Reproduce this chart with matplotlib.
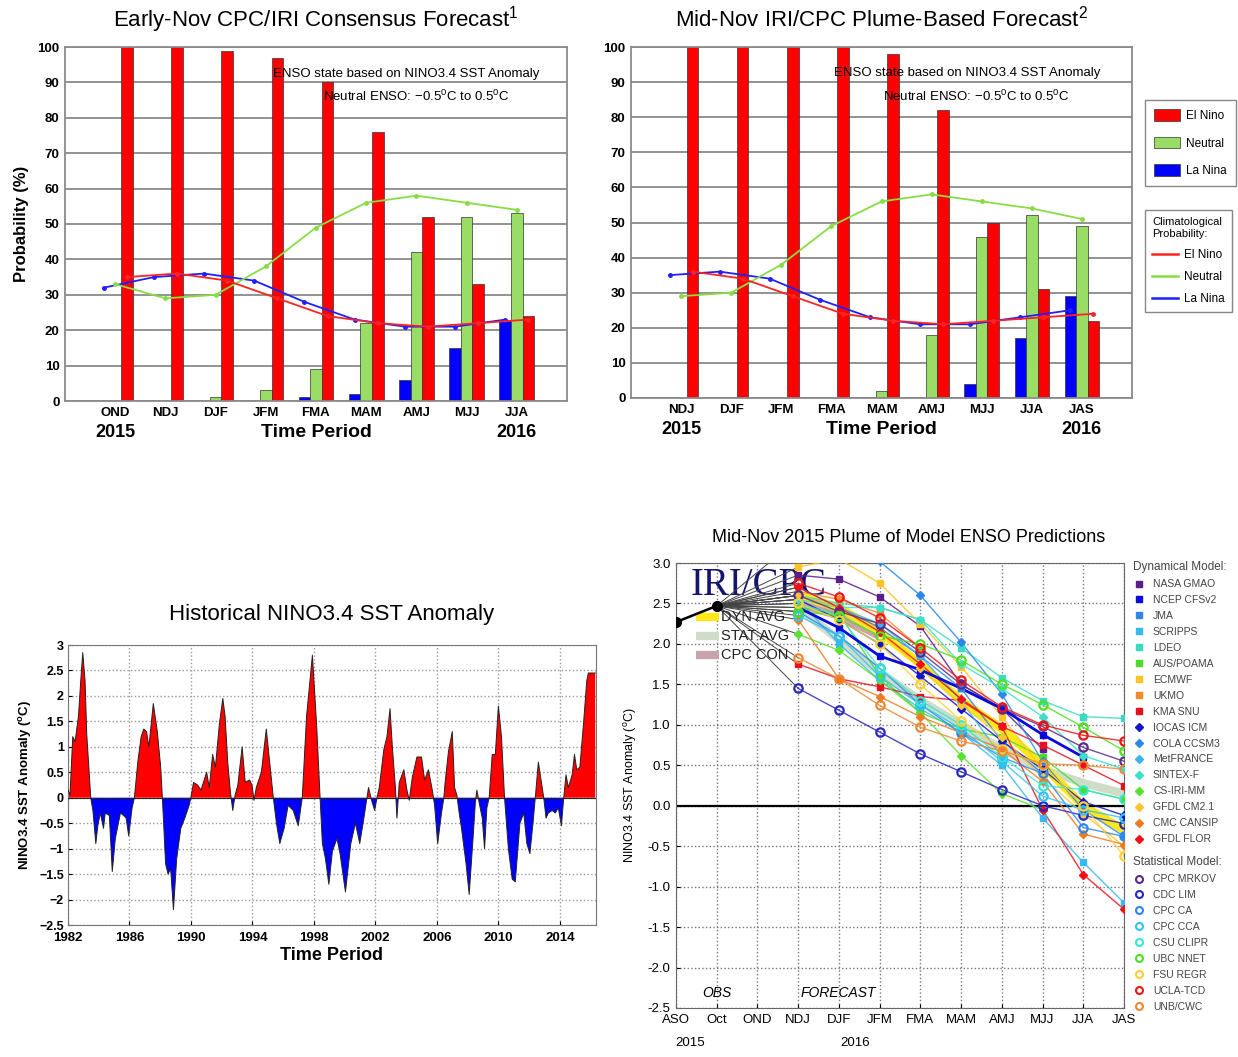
import numpy as np
import matplotlib
matplotlib.use("Agg")
import matplotlib.pyplot as plt
from matplotlib.lines import Line2D
from matplotlib.patches import Patch

plt.rcParams['font.family'] = ['Liberation Sans', 'DejaVu Sans']
plt.rcParams['mathtext.default'] = 'regular'

W, H = 1238, 1057

# ---------------- data ----------------
# early-Nov consensus forecast
seasons_early = ["OND", "NDJ", "DJF", "JFM", "FMA", "MAM", "AMJ", "MJJ", "JJA"]
early_lanina = [0, 0, 0, 0, 1, 2, 6, 15, 23]
early_neutral = [0, 0, 1, 3, 9, 22, 42, 52, 53]
early_elnino = [100, 100, 99, 97, 90, 76, 52, 33, 24]
early_clim_lanina = [32, 35, 36, 34, 28, 23, 21, 21, 23]
early_clim_neutral = [33, 29, 30, 38, 49, 56, 58, 56, 54]
early_clim_elnino = [35, 36, 34, 29, 24, 22, 21, 22, 23]

# mid-Nov plume based forecast
seasons_mid = ["NDJ", "DJF", "JFM", "FMA", "MAM", "AMJ", "MJJ", "JJA", "JAS"]
mid_lanina = [0, 0, 0, 0, 0, 0, 4, 17, 29]
mid_neutral = [0, 0, 0, 0, 2, 18, 46, 52, 49]
mid_elnino = [100, 100, 100, 100, 98, 82, 50, 31, 22]
mid_clim_lanina = [35, 36, 34, 28, 23, 21, 21, 23, 25]
mid_clim_neutral = [29, 30, 38, 49, 56, 58, 56, 54, 51]
mid_clim_elnino = [36, 34, 29, 24, 22, 21, 22, 23, 24]

# historical NINO3.4 anomaly
hist_years = [1982.00, 1982.13, 1982.31, 1982.46, 1982.68, 1982.83, 1982.96, 1983.11, 1983.22,
              1983.40, 1983.48, 1983.62, 1983.81, 1983.94, 1984.10, 1984.31, 1984.42, 1984.69,
              1984.88, 1985.08, 1985.41, 1985.62, 1985.78, 1985.95, 1986.17, 1986.32, 1986.54,
              1986.76, 1986.93, 1987.11, 1987.26, 1987.55, 1987.81, 1988.03, 1988.14, 1988.35,
              1988.51, 1988.68, 1988.86, 1989.07, 1989.34, 1989.60, 1989.88, 1989.99, 1990.17,
              1990.43, 1990.65, 1990.86, 1991.02, 1991.19, 1991.41, 1991.59, 1991.85, 1992.07,
              1992.22, 1992.39, 1992.57, 1992.72, 1992.87, 1993.05, 1993.33, 1993.53, 1993.81,
              1993.97, 1994.10, 1994.25, 1994.58, 1994.90, 1995.12, 1995.34, 1995.56, 1995.78,
              1996.06, 1996.32, 1996.65, 1996.98, 1997.24, 1997.52, 1997.90, 1998.18, 1998.40,
              1998.55, 1998.75, 1998.97, 1999.20, 1999.50, 1999.70, 2000.05, 2000.40, 2000.70,
              2000.98, 2001.25, 2001.45, 2001.55, 2001.75, 2001.95, 2002.10, 2002.25, 2002.55,
              2002.75, 2002.95, 2003.10, 2003.30, 2003.40, 2003.55, 2003.85, 2004.05, 2004.20,
              2004.40, 2004.70, 2005.00, 2005.20, 2005.45, 2005.70, 2005.85, 2006.05, 2006.30,
              2006.45, 2006.55, 2006.75, 2007.00, 2007.15, 2007.30, 2007.45, 2007.60, 2007.90,
              2008.10, 2008.35, 2008.50, 2008.60, 2008.75, 2008.95, 2009.10, 2009.25, 2009.40,
              2009.60, 2009.80, 2010.00, 2010.20, 2010.40, 2010.65, 2010.90, 2011.10, 2011.40,
              2011.65, 2011.85, 2012.05, 2012.25, 2012.40, 2012.60, 2012.80, 2012.95, 2013.10,
              2013.25, 2013.50, 2013.70, 2013.90, 2014.10, 2014.25, 2014.40, 2014.55, 2014.80,
              2014.95, 2015.10, 2015.30, 2015.55, 2015.75, 2015.85, 2016.00, 2016.30]
hist_anom = [0.15, 0.05, 1.2, 1.1, 1.6, 2.3, 2.85, 2.3, 1.25,
             0.4, 0.0, -0.25, -0.9, -0.55, -0.3, -0.6, -0.3, -0.35,
             -1.45, -0.8, -0.3, -0.35, -0.4, -0.75, -0.2, 0.0, 0.7,
             1.2, 1.35, 1.3, 1.0, 1.85, 1.3, 0.6, 0.0, -1.3,
             -1.5, -1.4, -2.2, -1.2, -0.6, -0.4, -0.15, 0.0, 0.3,
             0.25, 0.15, 0.35, 0.5, 0.2, 0.85, 0.6, 1.45, 1.95,
             1.6, 0.7, 0.1, -0.25, 0.05, 0.25, 1.0, 0.3, 0.35,
             0.25, -0.05, 0.2, 0.5, 1.35, 0.7, 0.05, -0.5, -0.9,
             -0.6, -0.15, -0.25, -0.55, 0.0, 1.6, 2.8, 1.4, 0.0,
             -0.9, -1.2, -1.7, -1.05, -0.8, -1.1, -1.85, -0.9, -0.5,
             -0.9, -0.4, 0.0, 0.2, -0.05, -0.25, 0.0, 0.2, 0.95,
             1.2, 1.75, 1.0, 0.2, -0.4, 0.3, 0.55, 0.15, -0.05,
             0.4, 0.8, 0.8, 0.35, 0.55, 0.15, -0.15, -0.9, -0.3,
             0.0, 0.35, 0.9, 1.3, 0.2, 0.05, -0.3, -0.6, -1.3,
             -1.9, -0.8, -0.1, 0.15, -0.1, -0.4, -1.0, -0.2, 0.0,
             0.85, 0.85, 1.8, 1.2, 0.0, -1.0, -1.6, -1.65, -0.5,
             -0.3, -0.9, -1.1, -0.5, 0.0, 0.7, 0.3, 0.0, -0.4,
             -0.3, -0.25, -0.3, -0.2, -0.55, 0.0, 0.45, 0.2, 0.45,
             0.85, 0.55, 0.6, 1.5, 2.3, 2.45, 2.45, 2.45]

# plume of model predictions
plume_seasons = ["ASO", "Oct", "OND", "NDJ", "DJF", "JFM", "FMA", "MAM", "AMJ", "MJJ", "JJA", "JAS"]
obs_values = [2.27, 2.47]
nan = np.nan
dyn_models = ["NASA GMAO", "NCEP CFSv2", "JMA", "SCRIPPS", "LDEO", "AUS/POAMA", "ECMWF", "UKMO",
              "KMA SNU", "IOCAS ICM", "COLA CCSM3", "MetFRANCE", "SINTEX-F", "CS-IRI-MM",
              "GFDL CM2.1", "CMC CANSIP", "GFDL FLOR"]
dyn_values = [
    [2.85, 2.80, 2.58, 2.22, 1.50, 1.20, 0.70, nan, nan],
    [2.45, 2.20, 1.85, 1.68, 1.45, 1.20, 0.88, 0.60, nan],
    [2.60, 2.45, 2.20, 1.85, 1.45, 0.80, 0.40, nan, nan],
    [2.55, 2.00, 1.55, 1.20, 0.90, 0.50, -0.15, -0.70, -1.20],
    [2.60, 2.50, 2.45, 2.30, 1.95, 1.58, 1.30, 1.10, 1.08],
    [2.45, 2.38, 1.60, 1.15, 0.95, 0.85, 0.60, 0.20, 0.08],
    [2.95, 3.05, 2.75, 2.25, 1.72, 1.10, 0.45, nan, nan],
    [2.65, 2.55, 2.38, 1.95, nan, nan, nan, nan, nan],
    [1.75, 1.57, 1.47, 1.35, 1.30, 0.98, 0.75, 0.50, 0.25],
    [2.55, 2.30, 2.00, 1.60, 1.20, 0.80, 0.45, 0.05, -0.12],
    [3.30, 3.20, 3.02, 2.60, 2.02, 1.38, 0.55, -0.05, -0.38],
    [2.70, 2.45, 2.25, 1.85, 1.30, 0.60, nan, nan, nan],
    [2.55, 2.45, 2.45, 2.30, 1.75, 1.45, 1.10, 0.62, 0.45],
    [2.12, 1.92, 1.55, 1.15, 0.62, 0.15, -0.05, nan, nan],
    [2.60, 2.45, 2.15, 1.70, 1.25, 0.85, 0.35, -0.10, -0.50],
    [2.30, 1.57, 1.35, 1.10, 0.90, 0.70, 0.30, -0.35, -0.48],
    [2.70, 2.45, 2.15, 1.75, 1.32, 0.98, -0.05, -0.85, -1.28],
]
stat_models = ["CPC MRKOV", "CDC LIM", "CPC CA", "CPC CCA", "CSU CLIPR", "UBC NNET", "FSU REGR",
               "UCLA-TCD", "UNB/CWC"]
stat_values = [
    [2.60, 2.40, 2.25, 1.90, 1.50, 1.20, 0.98, 0.72, 0.55],
    [1.45, 1.18, 0.91, 0.64, 0.42, 0.20, 0.00, -0.12, -0.22],
    [2.40, 2.10, 1.70, 1.25, 0.90, 0.60, 0.40, -0.27, -0.38],
    [2.35, 2.10, 1.60, 1.25, 0.95, 0.55, 0.12, -0.05, -0.15],
    [2.50, 2.35, 1.70, 1.30, 1.00, 0.60, 0.25, 0.20, 0.08],
    [2.40, 2.35, 2.10, 2.00, 1.80, 1.50, 1.25, 0.97, 0.68],
    [2.50, 2.30, 2.00, 1.50, 1.05, 0.70, 0.50, 0.00, -0.62],
    [2.75, 2.58, 2.32, 1.95, 1.55, 1.22, 1.00, 0.87, 0.80],
    [1.83, 1.57, 1.24, 0.97, 0.80, 0.68, 0.52, 0.50, 0.45],
]
dyn_avg = [2.60, 2.45, 2.15, 1.75, 1.30, 0.95, 0.50, 0.00, -0.30]
stat_avg = [2.45, 2.05, 1.65, 1.30, 1.00, 0.70, 0.45, 0.28, 0.15]
cpc_con = [2.50, 2.35, 2.10]

# ---------------- styles ----------------
RED, GREEN, BLUE = "#FF0000", "#99DD66", "#0000FF"
CL_RED, CL_GREEN, CL_BLUE = "#FF2222", "#88DD44", "#1F1FFF"
dyn_colors = ["#5A1E8C", "#0A0ADC", "#2E86E6", "#36B8F0", "#3ADBC0", "#4CDB2A", "#FFC425",
              "#F08A2A", "#E8101E", "#1414C8", "#2A88E8", "#3AB4F0", "#3AE0C8", "#5AE032",
              "#FFC430", "#F07A22", "#F01018"]
dyn_markers = ["s"] * 9 + ["D"] * 8
stat_colors = ["#5A2A8C", "#2828C0", "#2A88F0", "#30C4F4", "#34E8D4", "#4CE020", "#FFD034",
               "#F01414", "#F08830"]


def px_axes(fig, left, top, right, bottom):
    return fig.add_axes([left / W, 1 - bottom / H, (right - left) / W, (bottom - top) / H])


fig = plt.figure(figsize=(W / 100, H / 100), dpi=100)


def bar_panel(ax, seasons, lanina, neutral, elnino, cl_lanina, cl_neutral, cl_elnino, title,
              note_x):
    x = np.arange(len(seasons))
    w = 0.23
    ax.bar(x - w, lanina, w, color=BLUE, edgecolor="#333333", lw=0.5, zorder=2)
    ax.bar(x, neutral, w, color=GREEN, edgecolor="#333333", lw=0.5, zorder=2)
    ax.bar(x + w, elnino, w, color=RED, edgecolor="#333333", lw=0.5, zorder=2)
    ax.plot(x - w, cl_lanina, color=CL_BLUE, lw=1.3, marker="o", ms=2.5, zorder=3)
    ax.plot(x, cl_neutral, color=CL_GREEN, lw=1.3, marker="o", ms=2.5, zorder=3)
    ax.plot(x + w, cl_elnino, color=CL_RED, lw=1.3, marker="o", ms=2.5, zorder=3)
    ax.set_xlim(-1, len(seasons))
    ax.set_ylim(0, 100)
    ax.set_yticks(range(0, 101, 10))
    ax.set_xticks(x)
    ax.set_xticklabels(seasons, fontsize=9.5, fontweight="bold")
    for lab in ax.get_yticklabels():
        lab.set_fontsize(9.5)
        lab.set_fontweight("bold")
    ax.tick_params(length=0, pad=4)
    ax.yaxis.grid(True, color="#8a8a8a", lw=1.3)
    ax.set_axisbelow(True)
    for sp in ax.spines.values():
        sp.set_color("#8a8a8a")
        sp.set_linewidth(1.3)
    ax.set_title(title, fontsize=16, pad=15)
    ax.annotate("2015", xy=(0, -0.09), xycoords=("data", "axes fraction"), ha="center",
                va="center", fontsize=13, fontweight="bold")
    ax.annotate("2016", xy=(len(seasons) - 1, -0.09), xycoords=("data", "axes fraction"),
                ha="center", va="center", fontsize=13, fontweight="bold")
    ax.text(0.5, -0.09, "Time Period", transform=ax.transAxes, ha="center", va="center",
            fontsize=14, fontweight="bold")
    ax.text(note_x[0], 92.5, "ENSO state based on NINO3.4 SST Anomaly", ha="center",
            va="center", fontsize=9.5, zorder=4)
    ax.text(note_x[1], 86, r"Neutral ENSO: $-$0.5$^0$C to 0.5$^0$C", ha="center",
            va="center", fontsize=9.5, zorder=4)


# top-left
ax1 = px_axes(fig, 65, 47, 567, 401)
bar_panel(ax1, seasons_early, early_lanina, early_neutral, early_elnino, early_clim_lanina,
          early_clim_neutral, early_clim_elnino, "Early-Nov CPC/IRI Consensus Forecast$^1$",
          (5.8, 5.99))
ax1.set_ylabel("Probability (%)", fontsize=12, fontweight="bold", labelpad=6)

# top-right
ax2 = px_axes(fig, 631, 47, 1132, 398)
bar_panel(ax2, seasons_mid, mid_lanina, mid_neutral, mid_elnino, mid_clim_lanina,
          mid_clim_neutral, mid_clim_elnino, "Mid-Nov IRI/CPC Plume-Based Forecast$^2$",
          (5.71, 5.88))
leg1 = ax2.legend(handles=[Patch(facecolor=RED, edgecolor="#333333", lw=0.5, label="El Nino"),
                           Patch(facecolor=GREEN, edgecolor="#333333", lw=0.5, label="Neutral"),
                           Patch(facecolor=BLUE, edgecolor="#333333", lw=0.5, label="La Nina")],
                  loc="upper left", bbox_to_anchor=(1145 / W, 1 - 100 / H),
                  bbox_transform=fig.transFigure, fontsize=8.5, handlelength=2.2,
                  handleheight=1.1, handletextpad=0.5, labelspacing=1.25, borderpad=0.8,
                  borderaxespad=0, fancybox=False, edgecolor="#888888", framealpha=1)
ax2.add_artist(leg1)
ax2.legend(handles=[Line2D([], [], color=CL_RED, lw=1.8, label="El Nino"),
                    Line2D([], [], color=CL_GREEN, lw=1.8, label="Neutral"),
                    Line2D([], [], color=CL_BLUE, lw=1.8, label="La Nina")],
           title="Climatological\nProbability:", title_fontsize=8, alignment="left",
           loc="upper left", bbox_to_anchor=(1145 / W, 1 - 210 / H),
           bbox_transform=fig.transFigure, fontsize=8.5, handlelength=2.2, handletextpad=0.5,
           labelspacing=0.85, borderpad=0.6, borderaxespad=0, fancybox=False,
           edgecolor="#888888", framealpha=1)

# bottom-left historical
ax3 = px_axes(fig, 68, 645, 596, 925)
t = np.array(hist_years)
v = np.array(hist_anom)
ax3.fill_between(t, v, 0, where=v >= 0, interpolate=True, color=RED, lw=0, zorder=2)
ax3.fill_between(t, v, 0, where=v <= 0, interpolate=True, color=BLUE, lw=0, zorder=2)
ax3.plot(t, v, color="#222222", lw=0.7, zorder=3)
ax3.axhline(0, color="#222222", lw=0.8, zorder=3)
ax3.set_xlim(1982, 2016.35)
ax3.set_ylim(-2.5, 3)
ax3.set_xticks(range(1982, 2015, 4))
yt = np.arange(-2.5, 3.01, 0.5)
ax3.set_yticks(yt)
ax3.set_yticklabels([f"{y:g}".replace("-", "\u2212") for y in yt], fontsize=9,
                    fontweight="bold")
for lab in ax3.get_xticklabels():
    lab.set_fontsize(9.5)
    lab.set_fontweight("bold")
ax3.tick_params(length=3, direction="in", pad=3)
ax3.tick_params(axis="x", pad=5)
ax3.grid(True, color="#9a9a9a", ls=":", lw=1.0)
ax3.set_axisbelow(True)
for sp in ax3.spines.values():
    sp.set_color("#777777")
ax3.set_title("Historical NINO3.4 SST Anomaly", fontsize=16, pad=18)
ax3.set_xlabel("Time Period", fontsize=13, fontweight="bold", labelpad=2)
ax3.set_ylabel("NINO3.4 SST Anomaly ($^o$C)", fontsize=9.5, fontweight="bold", labelpad=4)

# bottom-right plume
ax4 = px_axes(fig, 676, 563, 1124, 1008)
xs = np.arange(len(plume_seasons))
fx = xs[3:]
ax4.text(0.35, 2.72, "IRI/CPC", family=["Liberation Serif", "DejaVu Serif"], fontsize=28,
         color="#14146E", va="center", ha="left", zorder=1)
all_values = dyn_values + stat_values
for vals in all_values:
    ax4.plot([xs[1], fx[0]], [obs_values[-1], vals[0]], color="#444444", lw=0.7, zorder=2)
ax4.plot(fx[:len(cpc_con)], cpc_con, color="#C9A3AA", lw=6, solid_capstyle="butt", zorder=2)
ax4.plot(fx, stat_avg, color="#CFDDC8", lw=6, solid_capstyle="butt", zorder=2)
ax4.plot(fx, dyn_avg, color="#FFE81A", lw=6, solid_capstyle="butt", zorder=2)
for vals, col, mk in zip(dyn_values, dyn_colors, dyn_markers):
    ax4.plot(fx, vals, color=col, lw=1.0, alpha=0.85, zorder=3)
    ax4.plot(fx, vals, ls="none", marker=mk, color=col, ms=5 if mk == "s" else 4.5, zorder=4)
for vals, col in zip(stat_values, stat_colors):
    ax4.plot(fx, vals, color=col, lw=1.0, alpha=0.85, zorder=3)
    ax4.plot(fx, vals, ls="none", marker="o", mfc="none", mec=col, mew=1.6, ms=6, zorder=4)
ax4.plot(fx, dyn_values[1], color=dyn_colors[1], lw=2.0, zorder=3)
ax4.plot(xs[:2], obs_values, color="black", lw=1.8, marker="o", ms=7, zorder=5)
ax4.axhline(0, color="black", lw=1.6, zorder=2)
ax4.set_xlim(0, 11)
ax4.set_ylim(-2.5, 3.0)
ax4.set_xticks(xs)
ax4.set_xticklabels(plume_seasons, fontsize=9.5)
pyt = np.arange(-2.5, 3.01, 0.5)
ax4.set_yticks(pyt)
ax4.set_yticklabels([f"{y:.1f}" for y in pyt], fontsize=9.5)
ax4.tick_params(length=3, direction="in", pad=4)
ax4.grid(True, color="#777777", ls=":", lw=1.0)
ax4.set_axisbelow(True)
for sp in ax4.spines.values():
    sp.set_color("#666666")
ax4.set_title("Mid-Nov 2015 Plume of Model ENSO Predictions", fontsize=13, pad=15, x=0.52)
ax4.set_ylabel("NINO3.4 SST Anomaly ($^o$C)", fontsize=9, labelpad=6)
ax4.annotate("2015", xy=(0.35, -0.079), xycoords=("data", "axes fraction"), ha="center",
             va="center", fontsize=9.5)
ax4.annotate("2016", xy=(4.4, -0.079), xycoords=("data", "axes fraction"), ha="center",
             va="center", fontsize=9.5)
ax4.text(1.0, -2.32, "OBS", style="italic", fontsize=10, ha="center", va="center")
ax4.text(3.05, -2.32, "FORECAST", style="italic", fontsize=10, ha="left", va="center")
ax4.plot([0.5, 1.05], [2.33, 2.33], color="#FFE81A", lw=6, solid_capstyle="butt", zorder=3)
ax4.plot([0.5, 1.05], [2.10, 2.10], color="#CFDDC8", lw=6, solid_capstyle="butt", zorder=3)
ax4.plot([0.5, 1.05], [1.86, 1.86], color="#C9A3AA", lw=6, solid_capstyle="butt", zorder=3)
ax4.text(1.1, 2.33, "DYN AVG", fontsize=10.5, va="center", color="#222222", zorder=3)
ax4.text(1.1, 2.10, "STAT AVG", fontsize=10.5, va="center", color="#222222", zorder=3)
ax4.text(1.1, 1.86, "CPC CON", fontsize=10.5, va="center", color="#222222", zorder=3)

dyn_handles = [Line2D([], [], ls="none", marker=mk, color=c, ms=4.5, label=n)
               for n, c, mk in zip(dyn_models, dyn_colors, dyn_markers)]
legd = ax4.legend(handles=dyn_handles, title="Dynamical Model:", title_fontsize=8.5,
                  alignment="left", loc="upper left", bbox_to_anchor=(1128 / W, 1 - 556 / H),
                  bbox_transform=fig.transFigure, fontsize=7.5, frameon=False,
                  handlelength=1.2, handletextpad=0.7, labelspacing=0.57, borderpad=0.0,
                  labelcolor="#444444")
legd.get_title().set_color("#444444")
ax4.add_artist(legd)
stat_handles = [Line2D([], [], ls="none", marker="o", mfc="none", mec=c, mew=1.5, ms=5, label=n)
                for n, c in zip(stat_models, stat_colors)]
legs = ax4.legend(handles=stat_handles, title="Statistical Model:", title_fontsize=8.5,
                  alignment="left", loc="upper left", bbox_to_anchor=(1128 / W, 1 - 851 / H),
                  bbox_transform=fig.transFigure, fontsize=7.5, frameon=False,
                  handlelength=1.2, handletextpad=0.7, labelspacing=0.57, borderpad=0.0,
                  labelcolor="#444444")
legs.get_title().set_color("#444444")

fig.savefig("out.png", dpi=100)
